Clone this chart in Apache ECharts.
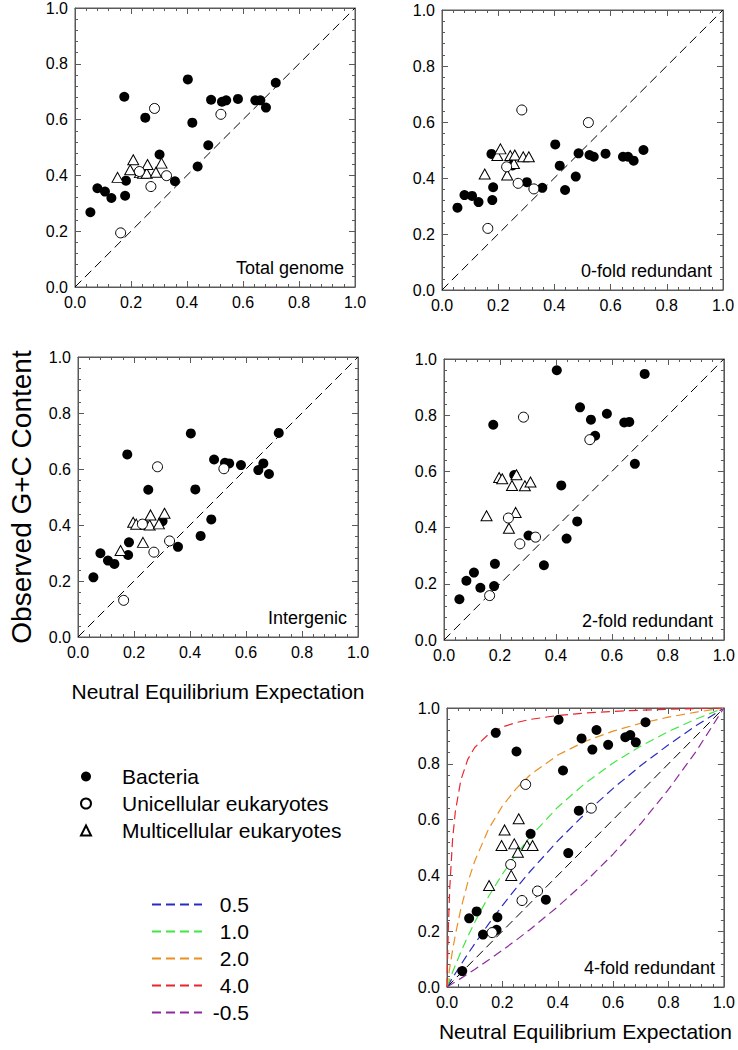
<!DOCTYPE html>
<html>
<head>
<meta charset="utf-8">
<script src="https://cdn.jsdelivr.net/npm/echarts@6/dist/echarts.min.js"></script>
<style>
html,body{margin:0;padding:0;background:#fff;}
#chart{width:738px;height:1050px;}
</style>
</head>
<body>
<div id="chart"></div>
<script>
// ---------- data ----------
const tickValues = [0, 0.2, 0.4, 0.6, 0.8, 1.0];
const panelNames = ['Total genome', '0-fold redundant', 'Intergenic', '2-fold redundant', '4-fold redundant'];
const groupNames = ['Bacteria', 'Unicellular eukaryotes', 'Multicellular eukaryotes'];
const curveNames = ['0.5', '1.0', '2.0', '4.0', '-0.5'];

const neutralX = [0, 1];
const neutralY = [0, 1];

const bacteriaX = [0.055, 0.080, 0.107, 0.130, 0.176, 0.179, 0.182, 0.251, 0.302, 0.357, 0.403, 0.419, 0.438, 0.476, 0.486, 0.525, 0.540, 0.582, 0.644, 0.662, 0.682, 0.717];
const bacteriaTotal = [0.268, 0.354, 0.342, 0.319, 0.682, 0.327, 0.381, 0.607, 0.475, 0.379, 0.744, 0.589, 0.432, 0.508, 0.671, 0.664, 0.669, 0.674, 0.669, 0.669, 0.643, 0.732];
const bacteria0fold = [0.294, 0.339, 0.336, 0.314, 0.486, 0.321, 0.367, 0.445, 0.385, 0.365, 0.520, 0.444, 0.357, 0.405, 0.488, 0.482, 0.476, 0.487, 0.476, 0.476, 0.462, 0.500];
const bacteriaIntergenic = [0.213, 0.299, 0.273, 0.261, 0.652, 0.293, 0.338, 0.526, 0.414, 0.322, 0.727, 0.527, 0.361, 0.420, 0.634, 0.622, 0.620, 0.614, 0.596, 0.620, 0.582, 0.729];
const bacteria2fold = [0.145, 0.211, 0.240, 0.186, 0.766, 0.192, 0.271, 0.587, 0.372, 0.266, 0.960, 0.550, 0.361, 0.422, 0.828, 0.784, 0.727, 0.805, 0.774, 0.776, 0.627, 0.947];
const bacteria4fold = [0.057, 0.246, 0.271, 0.188, 0.911, 0.205, 0.250, 0.844, 0.549, 0.313, 0.958, 0.776, 0.480, 0.632, 0.891, 0.851, 0.921, 0.868, 0.895, 0.903, 0.877, 0.949];

const unicellX = [0.163, 0.230, 0.271, 0.284, 0.327, 0.521];
const unicellTotal = [0.194, 0.414, 0.360, 0.640, 0.399, 0.619];
const unicell0fold = [0.220, 0.440, 0.381, 0.643, 0.361, 0.598];
const unicellIntergenic = [0.131, 0.403, 0.303, 0.608, 0.343, 0.601];
const unicell2fold = [0.158, 0.434, 0.342, 0.793, 0.366, 0.713];
const unicell4fold = [0.195, 0.439, 0.310, 0.726, 0.344, 0.641];

const multiX = [0.152, 0.197, 0.208, 0.232, 0.243, 0.256, 0.259, 0.289, 0.309];
const multiTotal = [0.393, 0.420, 0.456, 0.410, 0.408, 0.408, 0.439, 0.411, 0.444];
const multi0fold = [0.414, 0.480, 0.504, 0.411, 0.480, 0.452, 0.482, 0.476, 0.476];
const multiIntergenic = [0.309, 0.410, 0.403, 0.338, 0.403, 0.400, 0.436, 0.404, 0.442];
const multi2fold = [0.442, 0.578, 0.574, 0.398, 0.550, 0.454, 0.588, 0.549, 0.562];
const multi4fold = [0.364, 0.507, 0.563, 0.400, 0.513, 0.483, 0.603, 0.507, 0.507];

const curveX = [0, 0.002, 0.005, 0.01, 0.02, 0.03, 0.05, 0.075, 0.1, 0.15, 0.2, 0.25, 0.3, 0.4, 0.5, 0.6, 0.7, 0.8, 0.9, 1.0];
const curve05 = [0, 0.0033, 0.0082, 0.0164, 0.0326, 0.0485, 0.0799, 0.1179, 0.1548, 0.2254, 0.2919, 0.3547, 0.4140, 0.5236, 0.6225, 0.7121, 0.7937, 0.8683, 0.9369, 1];
const curve10 = [0, 0.0054, 0.0135, 0.0267, 0.0526, 0.0776, 0.1252, 0.1806, 0.2320, 0.3242, 0.4046, 0.4754, 0.5381, 0.6444, 0.7311, 0.8030, 0.8638, 0.9158, 0.9607, 1];
const curve20 = [0, 0.0146, 0.0358, 0.0695, 0.1310, 0.1860, 0.2800, 0.3747, 0.4509, 0.5660, 0.6488, 0.7112, 0.7600, 0.8313, 0.8808, 0.9172, 0.9452, 0.9673, 0.9852, 1];
const curve40 = [0, 0.0986, 0.2153, 0.3555, 0.5270, 0.6281, 0.7418, 0.8157, 0.8585, 0.9060, 0.9317, 0.9479, 0.9590, 0.9733, 0.9820, 0.9879, 0.9922, 0.9954, 0.9980, 1];
const curveM05 = [0, 0.0012, 0.0030, 0.0061, 0.0122, 0.0184, 0.0309, 0.0469, 0.0631, 0.0967, 0.1317, 0.1682, 0.2063, 0.2879, 0.3775, 0.4764, 0.5860, 0.7081, 0.8452, 1];

// ---------- build ----------
const FONT = '"Liberation Sans", Arial, sans-serif';
const AX = '#5a5a5a';
const bacteriaY = [bacteriaTotal, bacteria0fold, bacteriaIntergenic, bacteria2fold, bacteria4fold];
const unicellY = [unicellTotal, unicell0fold, unicellIntergenic, unicell2fold, unicell4fold];
const multiY = [multiTotal, multi0fold, multiIntergenic, multi2fold, multi4fold];
const curveY = [curve05, curve10, curve20, curve40, curveM05];
const curveColors = ['#2a2ac2', '#3fe83f', '#eb8f1f', '#e8262c', '#8e2a9e'];

const grids = [
  {left: 75, top: 7, width: 280, height: 280},
  {left: 442, top: 10, width: 281, height: 280},
  {left: 78, top: 357, width: 280, height: 280},
  {left: 444, top: 359, width: 280, height: 281},
  {left: 447, top: 708, width: 279, height: 279}
];

const zip = (xs, ys) => xs.map((x, i) => [x, ys[i]]);

function axisBase(gi, pos, showLabel) {
  return {
    type: 'value', gridIndex: gi, position: pos,
    min: tickValues[0], max: tickValues[tickValues.length - 1], interval: tickValues[1] - tickValues[0],
    axisLine: {show: true, onZero: false, lineStyle: {color: AX, width: 1}},
    axisTick: {show: true, inside: true, length: 6, lineStyle: {color: AX}},
    minorTick: {show: true, splitNumber: 5, length: 3, lineStyle: {color: AX}},
    splitLine: {show: false},
    minorSplitLine: {show: false},
    axisLabel: {show: showLabel, formatter: v => v.toFixed(1), fontSize: 16, color: '#000', fontFamily: FONT, margin: 7}
  };
}

const xAxis = [], yAxis = [], series = [], graphic = [];
grids.forEach((g, i) => {
  const xb = axisBase(i, 'bottom', true);
  const yl = axisBase(i, 'left', true);
  if (i === 2) {
    xb.name = 'Neutral Equilibrium Expectation';
    xb.nameLocation = 'middle'; xb.nameGap = 44;
    xb.nameTextStyle = {fontSize: 21, color: '#000', fontFamily: FONT};
    yl.name = 'Observed G+C Content';
    yl.nameLocation = 'middle'; yl.nameGap = 43; yl.nameRotate = 90;
    yl.nameTextStyle = {fontSize: 28, color: '#000', fontFamily: FONT};
  }
  if (i === 4) {
    xb.name = 'Neutral Equilibrium Expectation';
    xb.nameLocation = 'middle'; xb.nameGap = 34;
    xb.nameTextStyle = {fontSize: 21, color: '#000', fontFamily: FONT};
  }
  xAxis.push(xb, axisBase(i, 'top', false));
  yAxis.push(yl, axisBase(i, 'right', false));
  const xi = i * 2, yi = i * 2;

  series.push({
    type: 'line', xAxisIndex: xi, yAxisIndex: yi, data: zip(neutralX, neutralY),
    symbol: 'none', silent: true, z: 2,
    lineStyle: {color: '#000', width: 1, type: [9, 5]}
  });
  if (i === 4) {
    curveNames.forEach((nm, k) => {
      series.push({
        name: nm, type: 'line', xAxisIndex: xi, yAxisIndex: yi, data: zip(curveX, curveY[k]),
        symbol: 'none', silent: true, smooth: false, z: 2,
        lineStyle: {color: curveColors[k], width: 1.2, type: [9, 5]},
        itemStyle: {color: curveColors[k]}
      });
    });
  }
  series.push({
    name: groupNames[0], type: 'scatter', xAxisIndex: xi, yAxisIndex: yi,
    data: zip(bacteriaX, bacteriaY[i]), symbol: 'circle', symbolSize: 10, z: 3,
    itemStyle: {color: '#000', opacity: 1}
  });
  series.push({
    name: groupNames[2], type: 'scatter', xAxisIndex: xi, yAxisIndex: yi,
    data: zip(multiX, multiY[i]), symbol: 'triangle', symbolSize: [11, 10], z: 4,
    itemStyle: {color: '#fff', borderColor: '#000', borderWidth: 1, opacity: 1}
  });
  series.push({
    name: groupNames[1], type: 'scatter', xAxisIndex: xi, yAxisIndex: yi,
    data: zip(unicellX, unicellY[i]), symbol: 'circle', symbolSize: 10, z: 5,
    itemStyle: {color: '#fff', borderColor: '#000', borderWidth: 1, opacity: 1}
  });

  graphic.push({
    type: 'text', x: g.left + g.width - 11, y: g.top + g.height - 19, z: 10,
    style: {text: panelNames[i], fontSize: 18, fontFamily: FONT, fill: '#000', align: 'right', verticalAlign: 'middle'}
  });
});

const option = {
  animation: false,
  backgroundColor: '#fff',
  textStyle: {fontFamily: FONT},
  grid: grids.map(g => Object.assign({show: true, borderColor: AX, borderWidth: 1, backgroundColor: 'transparent'}, g)),
  xAxis, yAxis, series, graphic,
  legend: [
    {
      data: groupNames, orient: 'vertical', left: 80, top: 766, padding: 0,
      itemWidth: 10, itemHeight: 10, itemGap: 6, selectedMode: false,
      textStyle: {fontSize: 21, color: '#000', fontFamily: FONT, padding: [0, 0, 0, 26]}
    },
    {
      data: curveNames, orient: 'vertical', left: 151, top: 894, padding: 0,
      itemWidth: 50, itemHeight: 10, itemGap: 6, selectedMode: false,
      itemStyle: {opacity: 0},
      formatter: name => '{v|' + name + '}',
      textStyle: {fontSize: 21, color: '#000', fontFamily: FONT, padding: [0, 0, 0, 7],
        rich: {v: {width: 35, align: 'right', fontSize: 21, color: '#000', fontFamily: FONT}}}
    }
  ]
};

const chart = echarts.init(document.getElementById('chart'), null, {renderer: 'svg', width: 738, height: 1050});
chart.setOption(option);
</script>
</body>
</html>
